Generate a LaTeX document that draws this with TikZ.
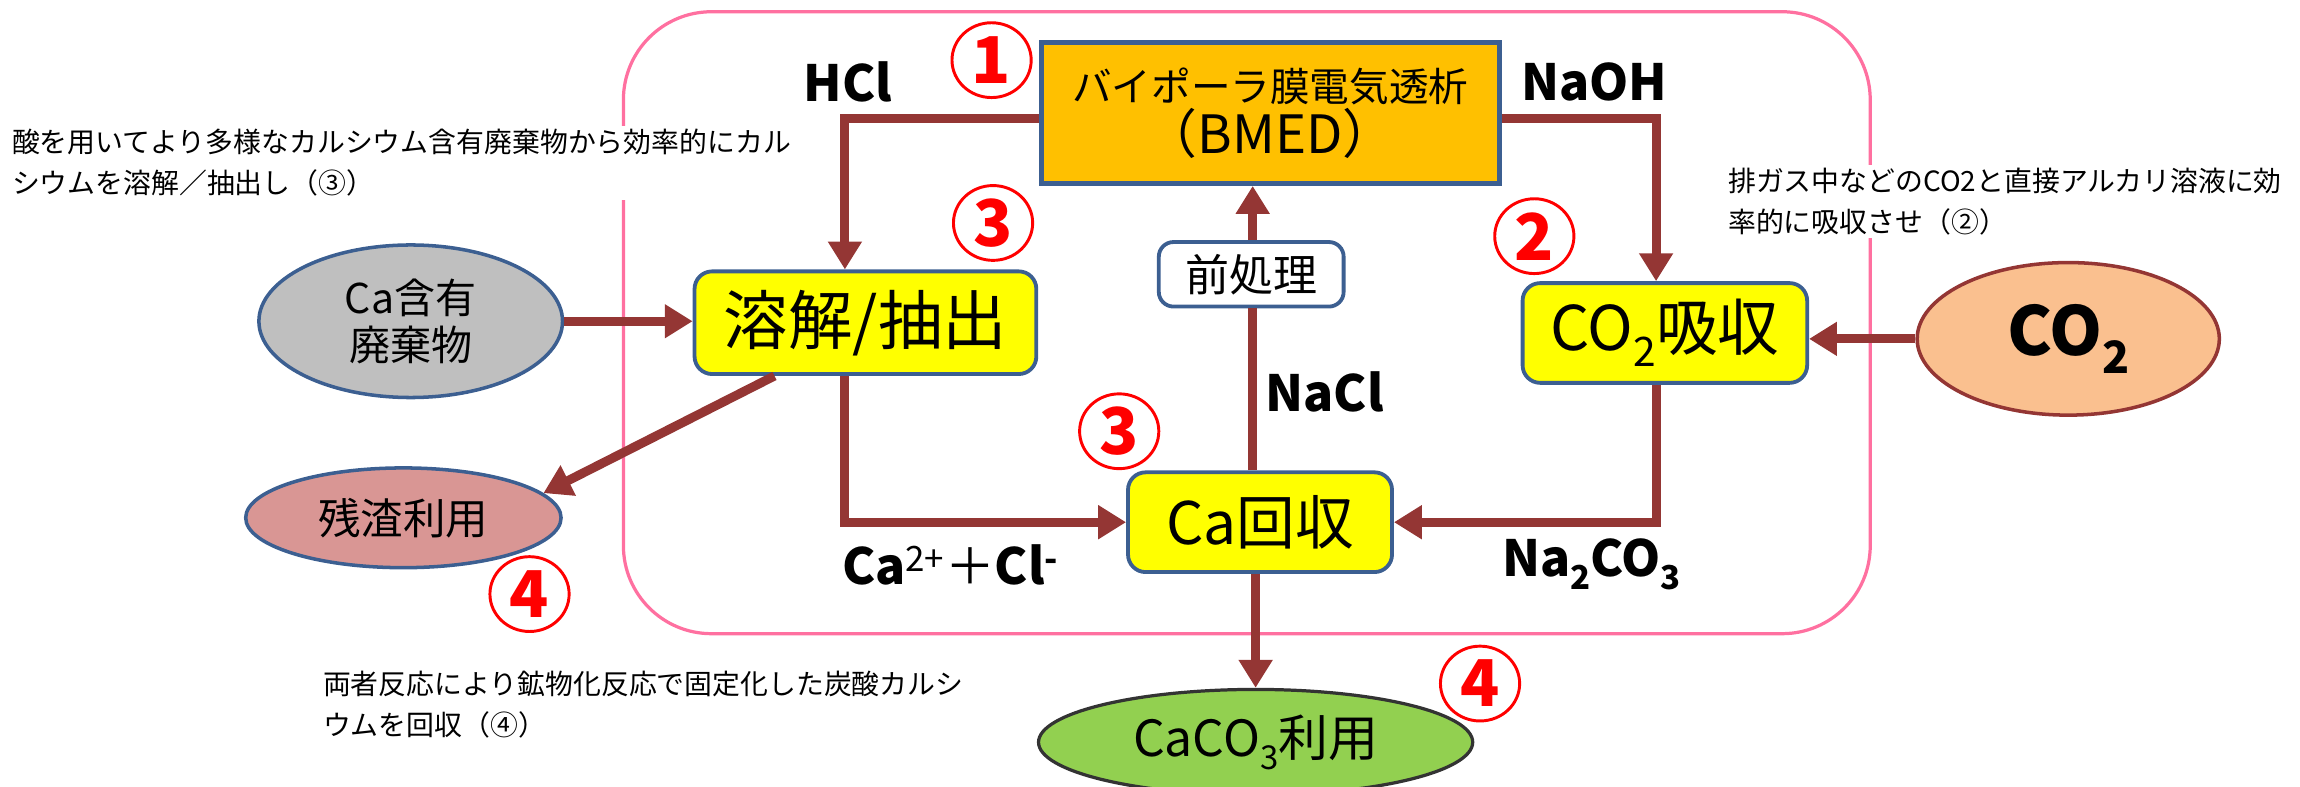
\documentclass[tikz,border=0pt]{standalone}
\usepackage{fontspec}
\setmainfont{Noto Sans CJK JP}
\usetikzlibrary{arrows.meta,shapes.geometric}
\definecolor{arrowred}{RGB}{148,54,52}
\definecolor{pinkline}{RGB}{255,112,160}
\definecolor{boxblue}{RGB}{60,95,145}
\definecolor{bmedorange}{RGB}{255,192,0}
\definecolor{procyellow}{RGB}{255,255,0}
\definecolor{wastegray}{RGB}{191,191,191}
\definecolor{peach}{RGB}{250,192,143}
\definecolor{residue}{RGB}{217,150,148}
\definecolor{limegreen}{RGB}{146,208,80}
\definecolor{numred}{RGB}{255,0,0}
\newcommand\fsz[2]{\fontsize{#1}{#2}\selectfont}
\newcommand\chsub[1]{\raisebox{-0.26em}{\scalebox{0.66}{#1}}}
\begin{document}
\begin{tikzpicture}[x=1pt,y=-1pt,
  arr/.style={draw=arrowred, line width=6.2pt, -{Triangle[length=19pt,width=22pt]}},
  lin/.style={draw=arrowred, line width=6.2pt},
  procbox/.style={draw=boxblue, line width=2.6pt, fill=procyellow, rounded corners=12pt, inner sep=0pt, align=center},
  ellnode/.style={ellipse, line width=2.4pt, inner sep=0pt, align=center},
  chem/.style={font=\bfseries\fsz{34}{40}, inner sep=0pt},
  circnum/.style={ellipse, draw=numred, line width=2pt, minimum width=54pt, minimum height=51pt, inner sep=0pt, text=numred, font=\bfseries\fsz{44}{46}},
  note/.style={font=\fsz{19}{28}, align=left, inner sep=2pt}
]
\useasboundingbox (0,0) rectangle (1568,536.5);

% pink frame
\draw[pinkline, line width=2.2pt, rounded corners=60pt] (425,8) rectangle (1275,432);

% annotations (white background breaks the frame)
\node[note, fill=white, anchor=north west] (noteL) at (6,86) {酸を用いてより多様なカルシウム含有廃棄物から効率的にカル\\シウムを溶解／抽出し（③）};
\node[note, fill=white, anchor=north west] (noteR) at (1176,112) {排ガス中などのCO2と直接アルカリ溶液に効\\率的に吸収させ（②）};
\node[note, anchor=north west] (noteB) at (218,455) {両者反応により鉱物化反応で固定化した炭酸カルシ\\ウムを回収（④）};

% main nodes
\node[draw=boxblue, line width=3.5pt, fill=bmedorange, minimum width=312pt, minimum height=96pt, inner sep=0pt, align=center] (bmed) at (866,77)
  {\fsz{27}{46}バイポーラ膜電気透析\\[1pt]\fsz{36}{46}（BMED）};
\node[procbox, minimum width=233pt, minimum height=70pt, font=\fsz{44}{50}] (youkai) at (590,220) {溶解/抽出};
\node[procbox, fill=white, rounded corners=10pt, minimum width=126pt, minimum height=44pt, font=\fsz{30}{34}] (maeshori) at (853,187) {前処理};
\node[procbox, minimum width=194pt, minimum height=68pt, font=\fsz{42}{48}] (co2abs) at (1135,227) {CO\chsub{2}吸収};
\node[procbox, minimum width=180pt, minimum height=68pt, font=\fsz{40}{46}] (caret) at (859,356) {Ca回収};

\node[ellnode, draw=arrowred, fill=peach, minimum width=206pt, minimum height=104pt, font=\bfseries\fsz{46}{50}] (co2) at (1410,231) {CO\chsub{2}};
\node[ellnode, draw=boxblue, fill=wastegray, minimum width=207pt, minimum height=104pt, font=\fsz{28}{32}] (waste) at (280,219) {Ca含有\\廃棄物};
\node[ellnode, draw=boxblue, fill=residue, minimum width=215pt, minimum height=68pt, font=\fsz{29}{34}] (zansa) at (275,353) {残渣利用};
\node[ellnode, draw=black!80, line width=2.2pt, fill=limegreen, minimum width=296pt, minimum height=72pt, font=\fsz{34}{40}] (caco3) at (856,506) {CaCO\chsub{3}利用};

% connectors
\draw[arr] ([yshift=-4pt]bmed.west) -| ([xshift=-14pt]youkai.north);
\draw[arr] ([yshift=-4pt]bmed.east) -| ([xshift=-6pt]co2abs.north);
\draw[arr] (co2.west) -- (co2abs.east |- co2.west);
\draw[arr] (waste.east) -- (youkai.west |- waste.east);
\draw[arr] ([xshift=-14pt]youkai.south) |- (caret.west);
\draw[arr] ([xshift=-6pt]co2abs.south) |- (caret.east);
\draw[lin] ([xshift=-5pt]caret.north) -- ([xshift=-5pt]caret.north |- maeshori.south);
\draw[arr] ([xshift=1pt]maeshori.north) -- ([xshift=1pt]maeshori.north |- bmed.south);
\draw[arr] ([xshift=-3pt]caret.south) -- ([xshift=-3pt]caret.south |- caco3.north);
\draw[arr] ([xshift=-62pt]youkai.south) -- (zansa.10);

% chemical labels
\node[chem] (hcl) at (578,56) {HCl};
\node[chem] (naoh) at (1087,56) {NaOH};
\node[chem] (nacl) at (903,267) {NaCl};
\node[chem] (cacl) at (648,385) {Ca\textsuperscript{\mdseries 2+}{\mdseries ＋}Cl\textsuperscript{-}};
\node[chem] (na2co3) at (1085,385) {Na\chsub{2}CO\chsub{3}};

% circled numbers
\node[circnum] (n1) at (676,41) {1};
\node[circnum] (n3a) at (677,152) {3};
\node[circnum] (n2) at (1046,161) {2};
\node[circnum] (n3b) at (763,294) {3};
\node[circnum] (n4a) at (361,405) {4};
\node[circnum] (n4b) at (1009,466) {4};
\end{tikzpicture}
\end{document}
